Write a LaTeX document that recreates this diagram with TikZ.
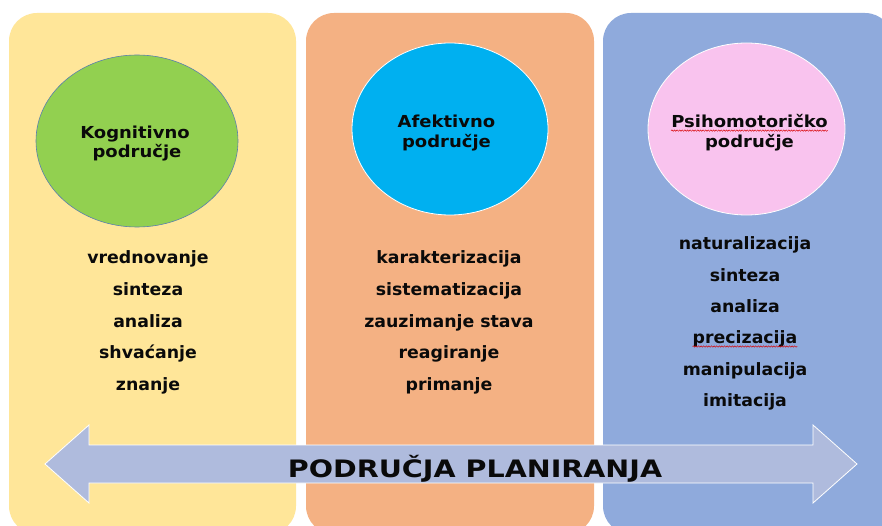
\documentclass[tikz,border=0pt]{standalone}
\usepackage{fontspec}
\setmainfont{DejaVu Sans}
\newfontfamily\titlefont{DejaVu Sans}[FakeStretch=1.09]
\newfontfamily\itemfont{DejaVu Sans}[FakeStretch=1.02]
\newfontfamily\bannerfont{DejaVu Sans}[FakeStretch=1.19]
\usetikzlibrary{shapes.geometric,decorations.pathmorphing}
\definecolor{pone}{HTML}{FFE699}
\definecolor{ptwo}{HTML}{F4B183}
\definecolor{pthree}{HTML}{8FAADC}
\definecolor{egreen}{HTML}{92D050}
\definecolor{eblue}{HTML}{00B0F0}
\definecolor{epink}{HTML}{F9C3EE}
\definecolor{eborder}{HTML}{5A7FAE}
\definecolor{arrowfill}{HTML}{AFBBDD}
\definecolor{ink}{HTML}{0A0A0A}
\begin{document}
\begin{tikzpicture}[x=1pt,y=-1pt,
  panelbox/.style={rectangle, rounded corners=28pt, draw=none, inner sep=0pt},
  ovalbox/.style={ellipse, inner sep=0pt, line width=0.8pt, draw=white},
  titleline/.style={anchor=base, inner sep=0pt, text=ink, font=\titlefont\bfseries\fontsize{16.5}{19}\selectfont},
  itemline/.style={anchor=base, inner sep=0pt, text=ink, font=\itemfont\bfseries\fontsize{17}{20}\selectfont},
  bannertext/.style={anchor=base, inner sep=0pt, text=ink, font=\bannerfont\bfseries\fontsize{24}{27}\selectfont},
  bigarrow/.style={fill=arrowfill, draw=white, line width=0.8pt, line join=miter},
  spell/.style={draw=red!85!black, line width=0.45pt, decorate, decoration={snake, amplitude=0.7pt, segment length=2.6pt}}
]
\useasboundingbox (0,0) rectangle (882,526);
\clip (0,0) rectangle (882,526);
\fill[white] (0,0) rectangle (882,526);

% panels
\node[panelbox, fill=pone, minimum width=287pt, minimum height=521pt] (p1) at (152.5,273.5) {};
\node[panelbox, fill=ptwo, minimum width=288pt, minimum height=521pt] (p2) at (450,273.5) {};
\node[panelbox, fill=pthree, minimum width=290pt, minimum height=521pt] (p3) at (748,273.5) {};

% ellipses
\node[ovalbox, fill=egreen, draw=eborder, line width=0.6pt, minimum width=202pt, minimum height=172pt] (e1) at (137,141) {};
\node[ovalbox, fill=eblue, minimum width=196pt, minimum height=172pt] (e2) at (450,129) {};
\node[ovalbox, fill=epink, minimum width=197pt, minimum height=172pt] (e3) at (746.5,129) {};

% titles
\node[titleline] (t1a) at (135,139) {Kognitivno};
\node[titleline] (t1b) at (137,158) {područje};
\node[titleline] (t2a) at (446.5,128) {Afektivno};
\node[titleline] (t2b) at (446.5,148) {područje};
\node[titleline] (t3a) at (749.5,128) {Psihomotoričko};
\node[titleline] (t3b) at (749.5,148) {područje};
\draw[spell] ([yshift=-2.6pt]t3a.base west) -- ([yshift=-2.6pt]t3a.base east);

% lists
\foreach \w [count=\i] in {vrednovanje,sinteza,analiza,shvaćanje,znanje}
  \node[itemline] (a\i) at (148,{264+31.5*(\i-1)}) {\w};
\foreach \w [count=\i] in {karakterizacija,sistematizacija,zauzimanje stava,reagiranje,primanje}
  \node[itemline] (b\i) at (449,{264+31.5*(\i-1)}) {\w};
\foreach \w [count=\i] in {naturalizacija,sinteza,analiza,precizacija,manipulacija,imitacija}
  \node[itemline] (c\i) at (745,{250+31.3*(\i-1)}) {\w};
\draw[spell] ([yshift=-2.6pt]c4.base west) -- ([yshift=-2.6pt]c4.base east);

% double arrow
\draw[bigarrow] (45,464) -- (89,425) -- (89,445) -- (813,445) -- (813,425) -- (857,464)
  -- (813,503) -- (813,483) -- (89,483) -- (89,503) -- cycle;
\node[bannertext] (banner) at (475,477.5) {PODRUČJA PLANIRANJA};
\end{tikzpicture}
\end{document}
